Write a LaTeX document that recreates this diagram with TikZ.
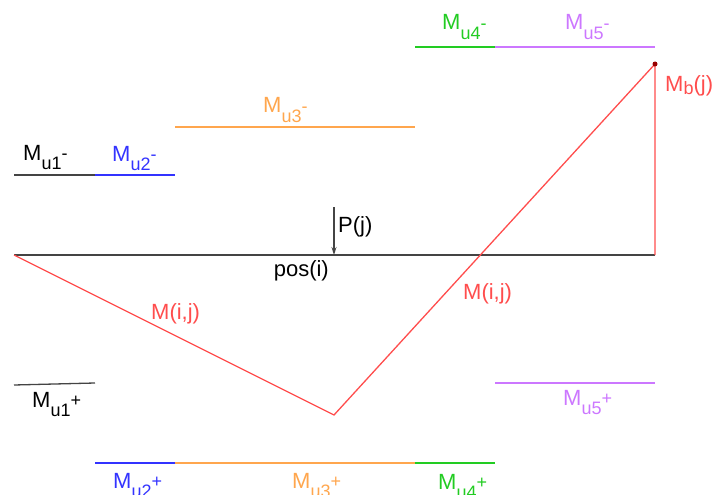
\documentclass[tikz,border=0pt]{standalone}
\usepackage{fontspec}
\setmainfont{Liberation Sans}
\usetikzlibrary{arrows.meta}
\definecolor{cred}{HTML}{FF4D4D}
\definecolor{cgray}{HTML}{444444}
\definecolor{cblue}{HTML}{3333FF}
\definecolor{corange}{HTML}{FFA64D}
\definecolor{cgreen}{HTML}{22CC22}
\definecolor{cviolet}{HTML}{CC77FF}
\newcommand{\smallfs}{\fontsize{18}{20}\selectfont}
\newcommand{\Mu}[2]{M\raisebox{-9.5pt}{\smallfs u#1}\raisebox{0.5pt}{\smallfs #2}}
\begin{document}
\begin{tikzpicture}[x=1pt,y=-1pt,
  lbl/.style={font=\fontsize{22}{24}\selectfont, inner sep=0pt, anchor=base west},
  seg/.style={line width=1.3pt}]
\useasboundingbox (0,0) rectangle (715,495);
% beam
\coordinate (A) at (14,255);
\coordinate (B) at (655,255);
\coordinate (C) at (334,415);
\coordinate (D) at (655,64);
\coordinate (P0) at (334,207);
\coordinate (P1) at (334,255);
\draw[cgray, line width=1.3pt] (A) -- (B);
\draw[cred, line width=1.3pt] (A) -- (C) -- (D) -- (B);
\fill[red!60!black] (D) circle (2.5);
\draw[cgray, line width=1.1pt, -{Stealth[length=8pt,width=5pt]}] (P0) -- (P1);
\node[lbl] (pj) at (338,232) {P(j)};
\node[lbl, anchor=base east] (pos) at (329,276) {pos(i)};
\node[lbl, text=cred] (m1) at (151,319) {M(i,j)};
\node[lbl, text=cred] (m2) at (463,299) {M(i,j)};
\node[lbl, text=cred] (mb) at (665,92) {M\raisebox{-3pt}{\smallfs b}(j)};
% negative segments
\draw[seg, cgray] (14,175) -- (95,175);
\draw[seg, cblue] (95,175) -- (175,175);
\draw[seg, corange] (175,127) -- (415,127);
\draw[seg, cgreen] (415,47) -- (495,47);
\draw[seg, cviolet] (495,47) -- (655,47);
\node[lbl] (l1) at (23,160) {\Mu{1}{-}};
\node[lbl, text=cblue] (l2) at (112,161) {\Mu{2}{-}};
\node[lbl, text=corange] (l3) at (263,113) {\Mu{3}{-}};
\node[lbl, text=cgreen] (l4) at (442,30) {\Mu{4}{-}};
\node[lbl, text=cviolet] (l5) at (565,30) {\Mu{5}{-}};
% positive segments
\draw[seg, cgray] (14,385) -- (95,383);
\draw[seg, cviolet] (495,383) -- (655,383);
\draw[seg, cblue] (95,463) -- (175,463);
\draw[seg, corange] (175,463) -- (415,463);
\draw[seg, cgreen] (415,463) -- (495,463);
\node[lbl] (p1) at (32,407) {\Mu{1}{+}};
\node[lbl, text=cviolet] (p5) at (563,405) {\Mu{5}{+}};
\node[lbl, text=cblue] (p2) at (113,488) {\Mu{2}{+}};
\node[lbl, text=corange] (p3) at (292,488) {\Mu{3}{+}};
\node[lbl, text=cgreen] (p4) at (438,489) {\Mu{4}{+}};
\end{tikzpicture}
\end{document}
